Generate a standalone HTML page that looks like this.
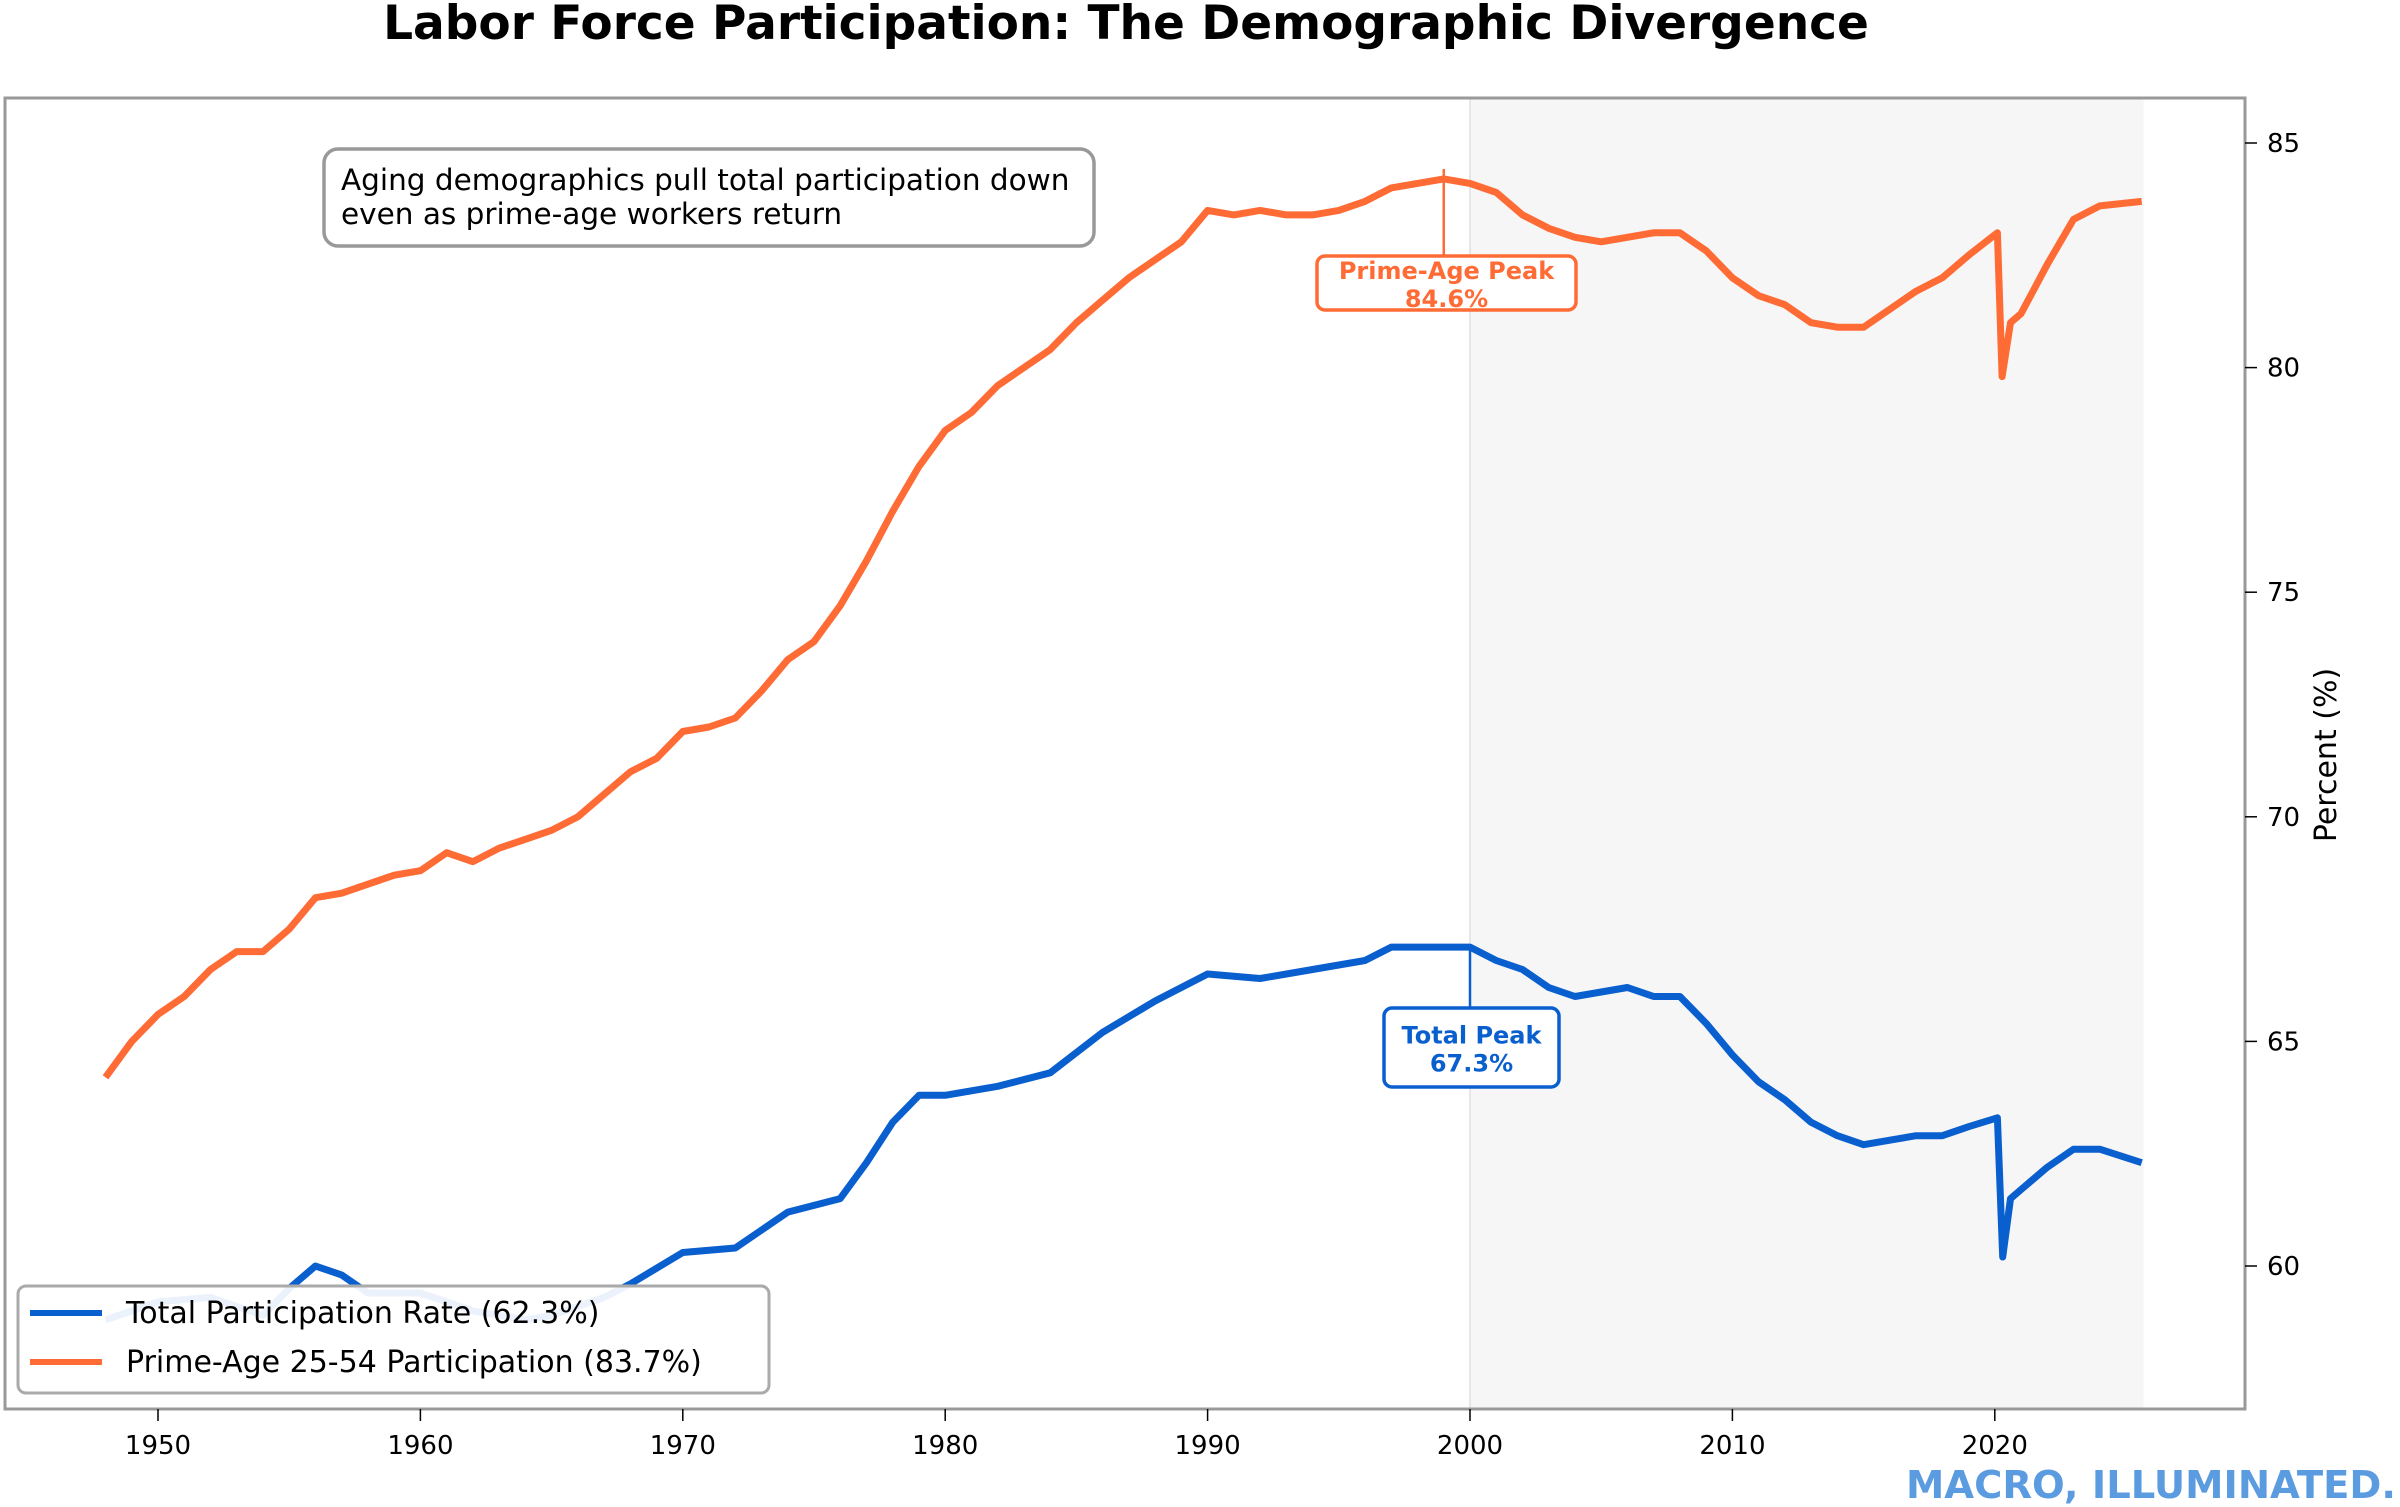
<!DOCTYPE html>
<html><head><meta charset="utf-8"><style>
html,body{margin:0;padding:0;background:#fff;}
svg{display:block;font-family:"DejaVu Sans","Liberation Sans",sans-serif;}
</style></head><body>
<svg id="chart" width="2400" height="1507" viewBox="0 0 2400 1507" xmlns="http://www.w3.org/2000/svg">
<text x="1126" y="39" text-anchor="middle" font-size="47" font-weight="bold" fill="#000">Labor Force Participation: The Demographic Divergence</text>
<g id="plot"></g>
</svg>
<script>
const primeYears=[1948,1949,1950,1951,1952,1953,1954,1955,1956,1957,1958,1959,1960,1961,1962,1963,1964,1965,1966,1967,1968,1969,1970,1971,1972,1973,1974,1975,1976,1977,1978,1979,1980,1981,1982,1983,1984,1985,1986,1987,1988,1989,1990,1991,1992,1993,1994,1995,1996,1997,1998,1999,2000,2001,2002,2003,2004,2005,2006,2007,2008,2009,2010,2011,2012,2013,2014,2015,2016,2017,2018,2019,2020.1,2020.28,2020.6,2021,2022,2023,2024,2025.6];
const primeValues=[64.2,65.0,65.6,66.0,66.6,67.0,67.0,67.5,68.2,68.3,68.5,68.7,68.8,69.2,69.0,69.3,69.5,69.7,70.0,70.5,71.0,71.3,71.9,72.0,72.2,72.8,73.5,73.9,74.7,75.7,76.8,77.8,78.6,79.0,79.6,80.0,80.4,81.0,81.5,82.0,82.4,82.8,83.5,83.4,83.5,83.4,83.4,83.5,83.7,84.0,84.1,84.2,84.1,83.9,83.4,83.1,82.9,82.8,82.9,83.0,83.0,82.6,82.0,81.6,81.4,81.0,80.9,80.9,81.3,81.7,82.0,82.5,83.0,79.8,81.0,81.2,82.3,83.3,83.6,83.7];
const totalYears=[1948,1950,1952,1954,1955,1956,1957,1958,1960,1962,1964,1965,1967,1968,1970,1972,1974,1976,1977,1978,1979,1980,1982,1984,1986,1988,1990,1992,1994,1996,1997,1998,2000,2001,2002,2003,2004,2006,2007,2008,2009,2010,2011,2012,2013,2014,2015,2016,2017,2018,2019,2020.1,2020.3,2020.6,2021,2022,2023,2024,2025.6];
const totalValues=[58.8,59.2,59.3,58.9,59.5,60.0,59.8,59.4,59.4,59.0,58.8,58.9,59.3,59.6,60.3,60.4,61.2,61.5,62.3,63.2,63.8,63.8,64.0,64.3,65.2,65.9,66.5,66.4,66.6,66.8,67.1,67.1,67.1,66.8,66.6,66.2,66.0,66.2,66.0,66.0,65.4,64.7,64.1,63.7,63.2,62.9,62.7,62.8,62.9,62.9,63.1,63.3,60.2,61.5,61.7,62.2,62.6,62.6,62.3];
const yTicks=[60,65,70,75,80,85];
const xTicks=[1950,1960,1970,1980,1990,2000,2010,2020];
const legendLabels=["Total Participation Rate (62.3%)","Prime-Age 25-54 Participation (83.7%)"];
const peakLabels=["Prime-Age Peak","84.6%","Total Peak","67.3%"];
const primePeak=[1999,84.6], totalPeak=[2000.0,67.3];

const L=5,R=2245,T=98,B=1409;
const x=yr=>158+(yr-1950)*26.24;
const y=v=>143+(85-v)*44.92;
const NS="http://www.w3.org/2000/svg";
const g=document.getElementById('plot');
function mk(tag,attrs,parent){const e=document.createElementNS(NS,tag);for(const k in attrs)e.setAttribute(k,attrs[k]);(parent||g).appendChild(e);return e;}

let e=mk('rect',{x:x(2000),y:T,width:x(2025.67)-x(2000),height:B-T,fill:'#f6f6f6'});


e=mk('line',{x1:x(2000),x2:x(2000),y1:T,y2:B,stroke:'#e6e6e6','stroke-width':2});



function line(xs,vs,color,name){const d=xs.map((a,i)=>(i?'L':'M')+x(a).toFixed(1)+' '+y(vs[i]).toFixed(1)).join(' ');
 const p=mk('path',{d:d,fill:'none',stroke:color,'stroke-width':7,'stroke-linejoin':'round'});
 
 }
line(primeYears,primeValues,'#ff6b35','prime-age-line');
line(totalYears,totalValues,'#0a5fcf','total-line');

e=mk('rect',{x:L,y:T,width:R-L,height:B-T,fill:'none',stroke:'#999','stroke-width':3});



yTicks.forEach(v=>{
 let t=mk('line',{x1:R,x2:R+12,y1:y(v),y2:y(v),stroke:'#000','stroke-width':1.5});
 
 
 let s=mk('text',{x:R+22,y:y(v)+9,'font-size':26,fill:'#000'});s.textContent=v;
 
 
});
xTicks.forEach(v=>{
 let t=mk('line',{x1:x(v),x2:x(v),y1:B,y2:B+12,stroke:'#000','stroke-width':1.5});
 
 
 let s=mk('text',{x:x(v),y:B+45,'font-size':26,fill:'#000','text-anchor':'middle'});s.textContent=v;
 
 
});
e=mk('text',{x:2336,y:755,'font-size':30,fill:'#000','text-anchor':'middle',transform:'rotate(-90 2336 755)'});e.textContent='Percent (%)';



function peak(pt,color,bx,by,bw,bh,l1,l2,name){
 let a=mk('line',{x1:x(pt[0]),x2:x(pt[0]),y1:y(pt[1])+8,y2:by,stroke:color,'stroke-width':2.5});
 
 
 let r=mk('rect',{x:bx,y:by,width:bw,height:bh,rx:8,fill:'#fff',stroke:color,'stroke-width':3.5});
 
 
 let t=mk('text',{x:bx+bw/2,y:by+bh/2-4,'font-size':24,'font-weight':'bold',fill:color,'text-anchor':'middle'});t.textContent=l1;
 
 
 let t2=mk('text',{x:bx+bw/2,y:by+bh/2+24,'font-size':24,'font-weight':'bold',fill:color,'text-anchor':'middle'});t2.textContent=l2;
 
 
}
peak(primePeak,'#ff6b35',1317,256,259,54,peakLabels[0],peakLabels[1],'prime-peak');
peak(totalPeak,'#0a5fcf',1384,1008,175,79,peakLabels[2],peakLabels[3],'total-peak');

e=mk('rect',{x:324,y:149,width:770,height:97,rx:14,fill:'#fff',stroke:'#999','stroke-width':3.5});


e=mk('text',{x:341,y:190,'font-size':29.5,fill:'#000'});e.textContent='Aging demographics pull total participation down';


e=mk('text',{x:341,y:224,'font-size':29.5,fill:'#000'});e.textContent='even as prime-age workers return';



e=mk('rect',{x:18,y:1286,width:751,height:107,rx:8,fill:'#fff','fill-opacity':0.92,stroke:'#aaa','stroke-width':3});


[['#0a5fcf',1313],['#ff6b35',1362]].forEach((c,i)=>{
 let l=mk('line',{x1:30,x2:102,y1:c[1],y2:c[1],stroke:c[0],'stroke-width':6});
 
 
 let t=mk('text',{x:126,y:c[1]+10,'font-size':30,fill:'#000'});t.textContent=legendLabels[i];
 
 
});
e=mk('text',{x:2396,y:1498,'font-size':38.5,'font-weight':'bold',fill:'#5b9be0','text-anchor':'end'});e.textContent='MACRO, ILLUMINATED.';


</script>
</body></html>
